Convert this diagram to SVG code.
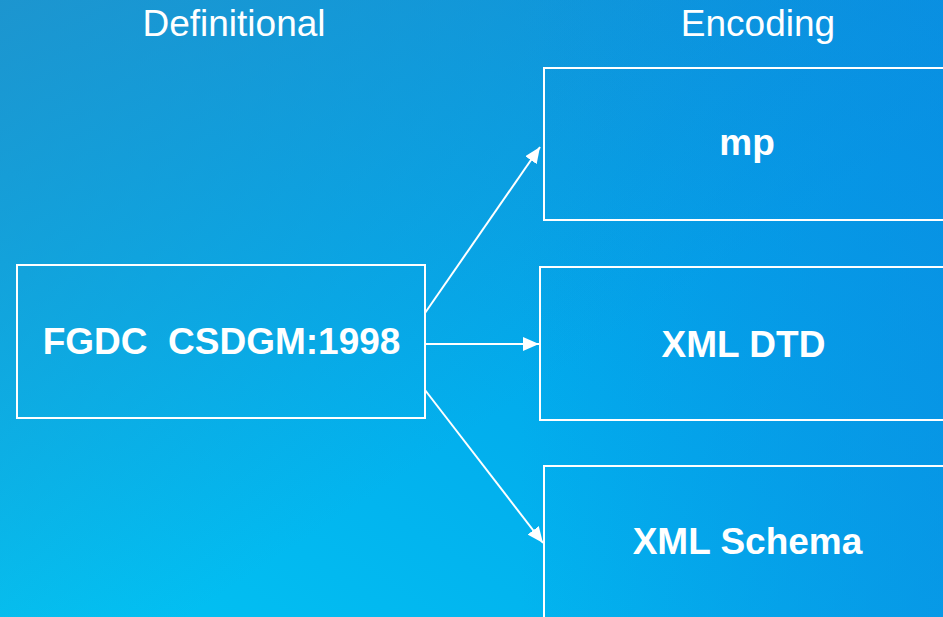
<svg xmlns="http://www.w3.org/2000/svg" width="943" height="617" viewBox="0 0 943 617">
<defs>
<linearGradient id="bg" x1="0" y1="1" x2="1" y2="0">
<stop offset="0" stop-color="#02c4f3"/>
<stop offset="0.5" stop-color="#02aaec"/>
<stop offset="1" stop-color="#0592e2"/>
</linearGradient>
<linearGradient id="tl" x1="0" y1="0" x2="0.6" y2="0.6">
<stop offset="0" stop-color="#2390c8" stop-opacity="0.8"/>
<stop offset="1" stop-color="#2390c8" stop-opacity="0"/>
</linearGradient>
<linearGradient id="rt" x1="0" y1="0" x2="1" y2="0">
<stop offset="0.55" stop-color="#0a8ee3" stop-opacity="0"/>
<stop offset="1" stop-color="#0a8ee3" stop-opacity="0.6"/>
</linearGradient>
<marker id="ah" markerUnits="userSpaceOnUse" markerWidth="18" markerHeight="14" refX="16" refY="7" orient="auto">
<path d="M0,0 L16,7 L0,14 Z" fill="#fff"/>
</marker>
<style>
.box{fill:none;stroke:#fff;stroke-width:2}
.t{font-family:"Liberation Sans",Arial,sans-serif;fill:#fff;text-anchor:middle}
.h{font-size:37px}
.b{font-size:37px;font-weight:bold}
.c{stroke:#fff;stroke-width:2;fill:none;marker-end:url(#ah)}
</style>
</defs>
<rect width="943" height="617" fill="url(#bg)"/>
<rect width="943" height="617" fill="url(#tl)"/>
<rect width="943" height="617" fill="url(#rt)"/>
<text class="t h" x="234" y="36">Definitional</text>
<text class="t h" x="758" y="36">Encoding</text>
<g id="fgdc">
<rect class="box" x="17" y="265" width="408" height="153"/>
<text class="t b" x="221.5" y="354" xml:space="preserve">FGDC  CSDGM:1998</text>
</g>
<g id="mp">
<rect class="box" x="544" y="68" width="410" height="152"/>
<text class="t b" x="747" y="155">mp</text>
</g>
<g id="dtd">
<rect class="box" x="540" y="267" width="414" height="153"/>
<text class="t b" x="743.5" y="357">XML DTD</text>
</g>
<g id="schema">
<rect class="box" x="544" y="466" width="410" height="160"/>
<text class="t b" x="747.5" y="554">XML Schema</text>
</g>
<g id="connectors">
<line class="c" x1="425" y1="313" x2="540" y2="147"/>
<line class="c" x1="425" y1="344" x2="539" y2="344"/>
<line class="c" x1="425" y1="390" x2="543" y2="543"/>
</g>
</svg>
